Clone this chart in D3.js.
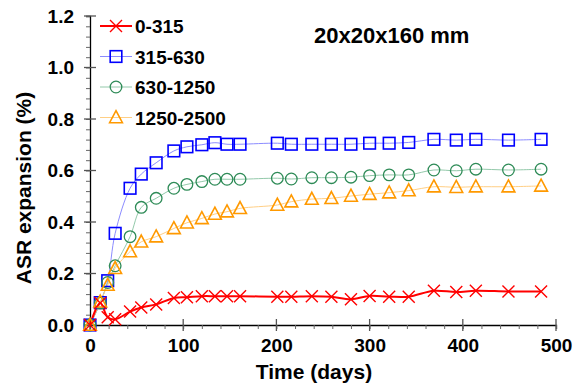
<!DOCTYPE html>
<html>
<head>
<meta charset="utf-8">
<script src="https://cdn.jsdelivr.net/npm/d3@7"></script>
<style>
  html, body { margin: 0; padding: 0; background: #fff; }
  svg { display: block; font-family: "Liberation Sans", Arial, Helvetica, sans-serif; font-weight: bold; }
</style>
</head>
<body>
<svg id="chart" width="576" height="387"></svg>
<script>
// Sampling ages (days) shared by all four size fractions
const days = [0, 11, 19, 27, 43, 55, 71, 90, 104, 120, 134, 147, 161, 201, 216, 238, 259, 280, 300, 321, 342, 369, 393, 414, 449, 484];

// ASR expansion (%) per aggregate size fraction
const frac0_315    = [0, 0.085, 0.030, 0.022, 0.052, 0.068, 0.080, 0.105, 0.108, 0.112, 0.112, 0.112, 0.112, 0.110, 0.110, 0.112, 0.110, 0.100, 0.113, 0.110, 0.110, 0.133, 0.128, 0.133, 0.130, 0.130];
const frac315_630  = [0, 0.087, 0.172, 0.356, 0.531, 0.586, 0.630, 0.676, 0.692, 0.700, 0.708, 0.702, 0.702, 0.706, 0.702, 0.702, 0.702, 0.702, 0.706, 0.706, 0.709, 0.721, 0.718, 0.721, 0.718, 0.721];
const frac630_1250 = [0, 0.085, 0.165, 0.230, 0.343, 0.457, 0.492, 0.531, 0.546, 0.557, 0.566, 0.566, 0.566, 0.570, 0.567, 0.572, 0.572, 0.574, 0.580, 0.583, 0.583, 0.602, 0.599, 0.605, 0.602, 0.605];
const frac1250_2500 = [0, 0.090, 0.155, 0.220, 0.285, 0.323, 0.343, 0.375, 0.397, 0.414, 0.431, 0.440, 0.453, 0.466, 0.479, 0.489, 0.492, 0.501, 0.508, 0.514, 0.522, 0.537, 0.535, 0.537, 0.537, 0.540];

const seriesNames = ["0-315", "315-630", "630-1250", "1250-2500"];
const xTicks = [0, 100, 200, 300, 400, 500];
const yTicks = [0, 0.2, 0.4, 0.6, 0.8, 1.0, 1.2];
const titleText = "20x20x160 mm";
const xTitle = "Time (days)";
const yTitle = "ASR expansion (%)";

const svg = d3.select("#chart");
const x = d3.scaleLinear().domain([0, 500]).range([90, 556]);
const y = d3.scaleLinear().domain([0, 1.2]).range([325, 16]);

const styles = [
  { values: frac0_315,     marker: "x",        color: "#ff0000", line: "#ff0000", lw: 2 },
  { values: frac315_630,   marker: "square",   color: "#0000ff", line: "#8c8cff", lw: 1 },
  { values: frac630_1250,  marker: "circle",   color: "#2e8b57", line: "#93c9aa", lw: 1 },
  { values: frac1250_2500, marker: "triangle", color: "#ff9900", line: "#ffcf85", lw: 1 }
];

function drawMarker(g, kind, color) {
  if (kind === "x") {
    g.append("path").attr("d", "M-6,-6L6,6M-6,6L6,-6")
      .attr("stroke", color).attr("stroke-width", 1.4).attr("fill", "none");
  } else if (kind === "square") {
    g.append("rect").attr("x", -5.8).attr("y", -5.8).attr("width", 11.6).attr("height", 11.6)
      .attr("stroke", color).attr("stroke-width", 1.6).attr("fill", "none");
  } else if (kind === "circle") {
    g.append("circle").attr("r", 5.8)
      .attr("stroke", color).attr("stroke-width", 1.3).attr("fill", "none");
  } else {
    g.append("path").attr("d", "M0,-6.8L6.4,5.2L-6.4,5.2Z")
      .attr("stroke", color).attr("stroke-width", 1.6).attr("fill", "none");
  }
}

// Axes
const xAxisMinor = d3.axisBottom(x).tickValues(d3.range(0, 501, 20)).tickSize(4).tickFormat("");
const xAxisMajor = d3.axisBottom(x).tickValues(xTicks).tickSize(0).tickPadding(14).tickFormat(d3.format("d"));
const yAxisMinor = d3.axisLeft(y).tickValues(d3.range(0, 1.2001, 0.04)).tickSize(4).tickFormat("");
const yAxisMajor = d3.axisLeft(y).tickValues(yTicks).tickSize(0).tickPadding(16).tickFormat(d3.format(".1f"));

const gx = svg.append("g").attr("transform", `translate(0,${y(0)})`);
gx.call(xAxisMinor);
gx.selectAll(".tick line").attr("stroke", "#666");
gx.append("g").call(xAxisMajor);
gx.selectAll(".domain").attr("stroke", "#000").attr("stroke-width", 1.3);
gx.selectAll(".domain").filter((d, i) => i > 0).remove();
// major x ticks cross the axis
xTicks.forEach(t => gx.append("line").attr("x1", x(t)).attr("x2", x(t)).attr("y1", -6).attr("y2", 6).attr("stroke", "#555").attr("stroke-width", 1.3));

const gy = svg.append("g").attr("transform", `translate(${x(0)},0)`);
gy.call(yAxisMinor);
gy.selectAll(".tick line").attr("stroke", "#666");
gy.append("g").call(yAxisMajor);
gy.selectAll(".domain").attr("stroke", "#000").attr("stroke-width", 1.3);
gy.selectAll(".domain").filter((d, i) => i > 0).remove();
yTicks.forEach(t => gy.append("line").attr("y1", y(t)).attr("y2", y(t)).attr("x1", -6).attr("x2", 6).attr("stroke", "#555").attr("stroke-width", 1.3));

svg.selectAll(".tick text").attr("font-size", 19).attr("font-weight", "bold").attr("fill", "#000")
  .attr("font-family", "Liberation Sans, Arial, sans-serif");

// Series
const line = d3.line().x((d, i) => x(days[i])).y(d => y(d)).curve(d3.curveCatmullRom.alpha(0.5));
const drawOrder = [1, 2, 3, 0];
drawOrder.forEach(si => {
  const s = styles[si];
  svg.append("path").datum(s.values).attr("d", line)
    .attr("fill", "none").attr("stroke", s.line).attr("stroke-width", s.lw);
});
drawOrder.forEach(si => {
  const s = styles[si];
  s.values.forEach((v, i) => {
    const g = svg.append("g").attr("transform", `translate(${x(days[i])},${y(v)})`);
    drawMarker(g, s.marker, s.color);
  });
});

// Legend
const legend = svg.append("g");
seriesNames.forEach((name, i) => {
  const s = styles[i];
  const ly = 26 + i * 30.5;
  legend.append("line").attr("x1", 100).attr("x2", 132).attr("y1", ly).attr("y2", ly)
    .attr("stroke", s.line).attr("stroke-width", s.lw);
  drawMarker(legend.append("g").attr("transform", `translate(116,${ly})`), s.marker, s.color);
  legend.append("text").attr("x", 135).attr("y", ly + 7).attr("font-size", 19).text(name);
});

// Title and axis titles
svg.append("text").attr("x", 314).attr("y", 43).attr("font-size", 22).text(titleText);
svg.append("text").attr("x", 314).attr("y", 379).attr("font-size", 21).attr("text-anchor", "middle").text(xTitle);
svg.append("text").attr("transform", "translate(31,188) rotate(-90)").attr("font-size", 21)
  .attr("text-anchor", "middle").text(yTitle);
</script>
</body>
</html>
